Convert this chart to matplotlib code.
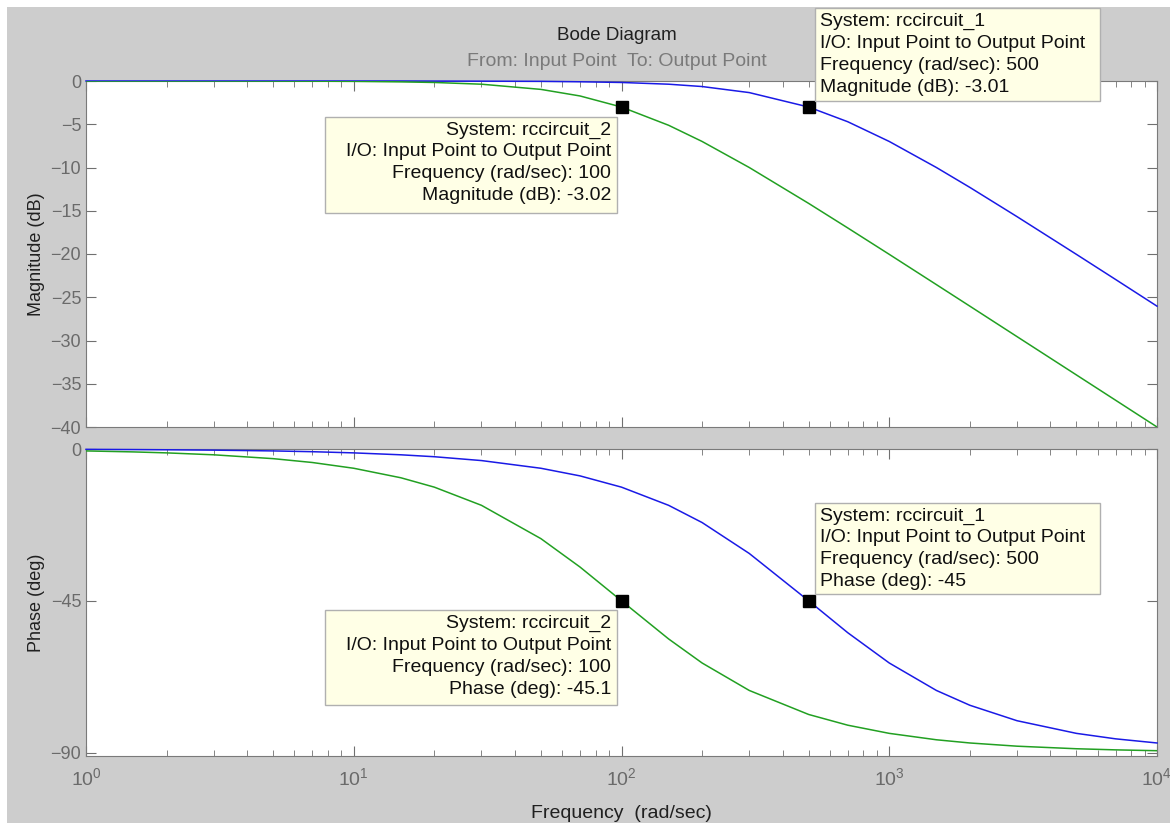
import numpy as np
import matplotlib
matplotlib.use("Agg")
import matplotlib.pyplot as plt
from matplotlib.patches import Rectangle

plt.rcParams['font.family'] = ['Liberation Sans', 'DejaVu Sans']
plt.rcParams['mathtext.fontset'] = 'custom'
plt.rcParams['mathtext.rm'] = 'Liberation Sans'

# DATA
freq = [1, 1.5, 2, 3, 5, 7, 10, 15, 20, 30, 50, 70, 100, 150, 200, 300, 500,
        700, 1000, 1500, 2000, 3000, 5000, 7000, 10000]
mag_rc1 = [0, 0, 0, 0, 0, 0, 0, 0, -0.01, -0.02, -0.04, -0.09, -0.17, -0.37,
           -0.64, -1.34, -3.01, -4.71, -6.99, -10.0, -12.30, -15.68, -20.04,
           -22.94, -26.03]
mag_rc2 = [0, 0, 0, 0, -0.01, -0.02, -0.04, -0.10, -0.17, -0.37, -0.97, -1.73,
           -3.01, -5.12, -6.99, -10.0, -14.15, -16.99, -20.04, -23.54, -26.03,
           -29.55, -33.98, -36.90, -40.0]
phase_rc1 = [-0.11, -0.17, -0.23, -0.34, -0.57, -0.80, -1.15, -1.72, -2.29,
             -3.43, -5.71, -7.97, -11.31, -16.70, -21.80, -30.96, -45.0,
             -54.46, -63.43, -71.57, -75.96, -80.54, -84.29, -85.91, -87.14]
phase_rc2 = [-0.57, -0.86, -1.15, -1.72, -2.86, -4.00, -5.71, -8.53, -11.31,
             -16.70, -26.57, -34.99, -45.0, -56.31, -63.43, -71.57, -78.69,
             -81.87, -84.29, -86.19, -87.14, -88.09, -88.85, -89.18, -89.43]

tip_freq = [500, 100]
tip_mag = [-3.01, -3.02]
tip_phase = [-45, -45.1]
###

W, H = 1170, 823
blue = '#1a1ae6'
green = '#22a022'
grey_bg = '#cdcdcd'
tick_col = '#6a6a6a'


def fx(px):
    return px / W


def fy(py):
    return 1 - py / H


fig = plt.figure(figsize=(11.7, 8.23), dpi=100)
fig.patch.set_facecolor('white')
fig.patches.append(Rectangle((fx(7), 0), 1, fy(7), transform=fig.transFigure,
                             facecolor=grey_bg, edgecolor='none', zorder=-5))

ax1 = fig.add_axes([fx(86), fy(427), fx(1157) - fx(86), fy(81) - fy(427)])
ax2 = fig.add_axes([fx(86), fy(756), fx(1157) - fx(86), fy(449) - fy(756)])

for ax in (ax1, ax2):
    ax.set_zorder(1)
    ax.set_xscale('log')
    ax.set_xlim(1, 10000)
    ax.tick_params(which='both', direction='in', top=True, right=True,
                   colors='#707070', labelcolor=tick_col, labelsize=13)
    ax.tick_params(which='major', length=7)
    ax.tick_params(which='minor', length=4)
    for s in ax.spines.values():
        s.set_color('#7a7a7a')

#MAGNITUDE
ax1.plot(freq, mag_rc1, color=blue, lw=1.1, zorder=3, clip_on=False)
ax1.plot(freq, mag_rc2, color=green, lw=1.1, zorder=3)
ax1.plot(tip_freq, tip_mag, 's', color='black', ms=8, zorder=4)
ax1.set_ylim(-40, 0)
ax1.set_yticks(np.arange(-40, 1, 5))
ax1.tick_params(labelbottom=False, which='both')
ax1.set_ylabel('Magnitude (dB)', fontsize=13, color='#202020', labelpad=4)
###

#PHASE
ax2.plot(freq, phase_rc1, color=blue, lw=1.1, zorder=3, clip_on=False)
ax2.plot(freq, phase_rc2, color=green, lw=1.1, zorder=3)
ax2.plot(tip_freq, tip_phase, 's', color='black', ms=8, zorder=4)
ax2.set_ylim(-91, 0)
ax2.set_yticks([-90, -45, 0])
ax2.set_xticks([1, 10, 100, 1000, 10000])
ax2.set_xticklabels([r'$10^{0}$', r'$10^{1}$', r'$10^{2}$', r'$10^{3}$', r'$10^{4}$'])
ax2.tick_params(axis='x', labelsize=14, pad=8)
ax2.set_ylabel('Phase (deg)', fontsize=13, color='#202020', labelpad=4)
###

fig.text(fx(617), fy(36), 'Bode Diagram', ha='center', va='center',
         fontsize=13.5, color='#202020')
fig.text(fx(617), fy(61), 'From: Input Point  To: Output Point', ha='center',
         va='center', fontsize=14, color='#7a7a7a')
fig.text(fx(621), fy(814), 'Frequency  (rad/sec)', ha='center', va='center',
         fontsize=14, color='#202020')


def datatip(x0, y0, x1, y1, lines, align):
    fig.patches.append(Rectangle((fx(x0), fy(y1)), fx(x1) - fx(x0),
                                 fy(y0) - fy(y1), transform=fig.transFigure,
                                 facecolor='#ffffe6', edgecolor='#b0b0b0',
                                 lw=1, zorder=5))
    tx = x1 - 6 if align == 'right' else x0 + 5
    for i, line in enumerate(lines):
        fig.text(fx(tx), fy(y0 + 13 + 22 * i), line, ha=align, va='center',
                 fontsize=14, color='#101010', zorder=6)


datatip(815, 8, 1100, 101,
        ['System: rccircuit_1', 'I/O: Input Point to Output Point',
         'Frequency (rad/sec): %d' % tip_freq[0],
         'Magnitude (dB): %.2f' % tip_mag[0]], 'left')
datatip(325, 117, 617, 213,
        ['System: rccircuit_2', 'I/O: Input Point to Output Point',
         'Frequency (rad/sec): %d' % tip_freq[1],
         'Magnitude (dB): %.2f' % tip_mag[1]], 'right')
datatip(815, 503, 1100, 594,
        ['System: rccircuit_1', 'I/O: Input Point to Output Point',
         'Frequency (rad/sec): %d' % tip_freq[0],
         'Phase (deg): %g' % tip_phase[0]], 'left')
datatip(325, 610, 617, 705,
        ['System: rccircuit_2', 'I/O: Input Point to Output Point',
         'Frequency (rad/sec): %d' % tip_freq[1],
         'Phase (deg): %g' % tip_phase[1]], 'right')

fig.savefig('out.png', dpi=100)
